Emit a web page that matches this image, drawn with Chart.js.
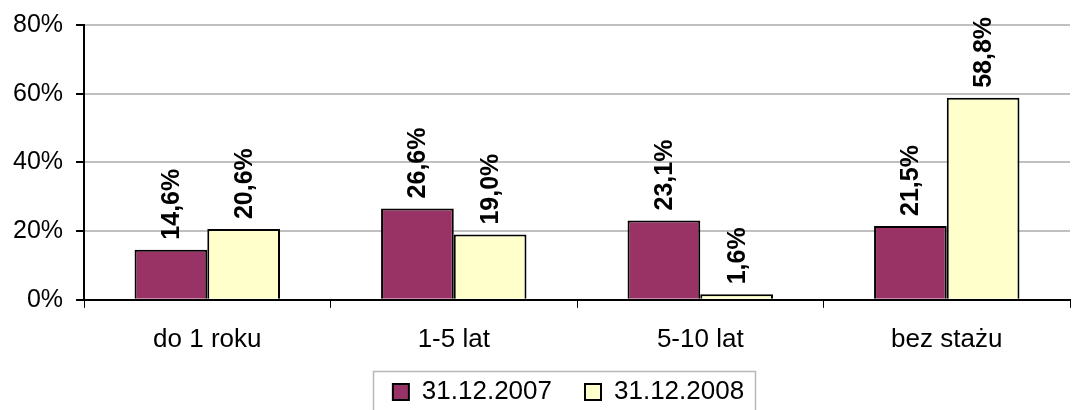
<!DOCTYPE html>
<html>
<head>
<meta charset="utf-8">
<script src="https://cdn.jsdelivr.net/npm/chart.js@4/dist/chart.umd.min.js"></script>
<style>
html,body{margin:0;padding:0;background:#fff;overflow:hidden;}
#wrap{width:1085px;height:410px;position:relative;}
</style>
</head>
<body>
<div id="wrap"><canvas id="c"></canvas></div>
<script>
const categories = ["do 1 roku", "1-5 lat", "5-10 lat", "bez stażu"];
const seriesNames = ["31.12.2007", "31.12.2008"];
const values2007 = [14.6, 26.6, 23.1, 21.5];
const values2008 = [20.6, 19.0, 1.6, 58.8];
const yTicks = [0, 20, 40, 60, 80];

const FONT = "'Liberation Sans', Arial, sans-serif";

const labelPlugin = {
  id: 'barLabels',
  afterDatasetsDraw(chart) {
    const ctx = chart.ctx;
    ctx.save();
    ctx.font = "bold 25px " + FONT;
    ctx.fillStyle = "#000";
    ctx.textAlign = "left";
    ctx.textBaseline = "middle";
    chart.data.datasets.forEach((ds, di) => {
      const meta = chart.getDatasetMeta(di);
      meta.data.forEach((bar, i) => {
        const txt = ds.data[i].toFixed(1).replace('.', ',') + '%';
        ctx.save();
        ctx.translate(bar.x + 1, bar.y - 10);
        ctx.rotate(-Math.PI / 2);
        ctx.fillText(txt, 0, 0);
        ctx.restore();
      });
    });
    ctx.restore();
  }
};

// place the legend below the axis labels, framed like the original
const legendPlace = {
  id: 'legendPlace',
  afterLayout(chart) {
    const lg = chart.legend;
    lg.top = 346; lg.bottom = 410;
    lg.left = 52; lg.right = 1085;
  },
  beforeDraw(chart) {
    const ctx = chart.ctx;
    ctx.save();
    ctx.strokeStyle = "#b8b8b8";
    ctx.lineWidth = 1.5;
    ctx.strokeRect(373.5, 371.5, 382, 60);
    ctx.restore();
  }
};

new Chart(document.getElementById('c'), {
  type: 'bar',
  data: {
    labels: categories,
    datasets: [
      { label: seriesNames[0], data: values2007, backgroundColor: '#993366', borderColor: '#000', borderWidth: 2,
        categoryPercentage: 0.59, barPercentage: 1.0 },
      { label: seriesNames[1], data: values2008, backgroundColor: '#FFFFCC', borderColor: '#000', borderWidth: 2,
        categoryPercentage: 0.59, barPercentage: 1.0 }
    ]
  },
  options: {
    responsive: true,
    maintainAspectRatio: false,
    animation: false,
    layout: { padding: { left: 0, right: 15, top: 25, bottom: 38 } },
    plugins: {
      legend: {
        position: 'bottom',
        maxHeight: 1,
        labels: {
          color: '#000',
          font: { family: FONT, size: 26 },
          boxWidth: 16, boxHeight: 16,
          padding: 33,
          generateLabels(chart) {
            return chart.data.datasets.map((ds, i) => ({
              text: ds.label, fillStyle: ds.backgroundColor, strokeStyle: '#000', lineWidth: 2,
              hidden: false, datasetIndex: i, fontColor: '#000'
            }));
          }
        }
      },
      tooltip: { enabled: false }
    },
    scales: {
      x: {
        grid: { drawOnChartArea: false, drawTicks: true, tickLength: 8, tickColor: '#000', offset: true },
        border: { color: '#000', width: 2 },
        ticks: { color: '#000', font: { family: FONT, size: 26 }, padding: 16, maxRotation: 0 }
      },
      y: {
        min: 0, max: 80,
        afterBuildTicks(axis) { axis.ticks = yTicks.map(v => ({ value: v })); },
        grid: { color: '#c0c0c0', lineWidth: 2, tickLength: 8, tickColor: '#000', drawTicks: true },
        border: { color: '#000', width: 2 },
        ticks: { color: '#000', font: { family: FONT, size: 25, lineHeight: 0.6 }, padding: 13, callback: v => v + '%' }
      }
    }
  },
  plugins: [labelPlugin, legendPlace]
});
</script>
</body>
</html>
